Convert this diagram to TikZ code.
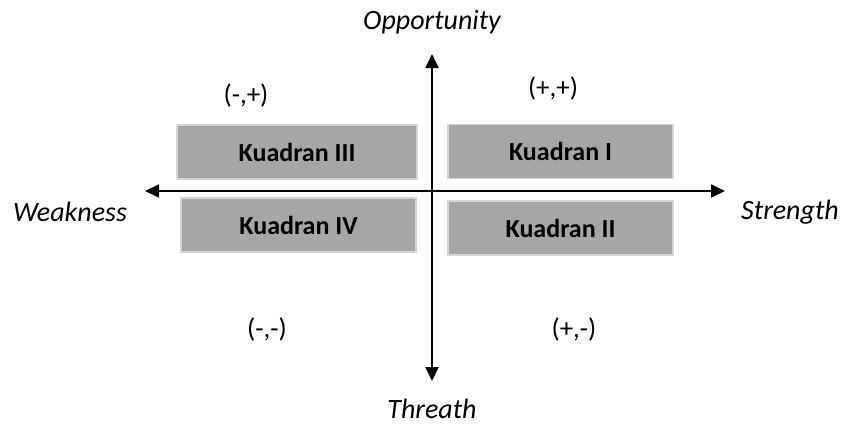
\documentclass[tikz,border=0pt]{standalone}
\usepackage{fontspec}
\setmainfont{Carlito}
\usetikzlibrary{arrows.meta}
\definecolor{boxgray}{HTML}{A6A6A6}
\definecolor{boxedge}{HTML}{D4D4D4}
\tikzset{
  quad/.style={draw=boxedge, line width=1.5pt, fill=boxgray, minimum width=#1, minimum height=54pt,
    font=\fontsize{26}{30}\selectfont\bfseries, inner sep=0pt},
  axis/.style={line width=1.8pt, -{Triangle[width=13pt,length=14pt]}},
  axlabel/.style={font=\fontsize{28}{32}\selectfont\itshape},
  sign/.style={font=\fontsize{27}{31}\selectfont}
}
\begin{document}
\begin{tikzpicture}[x=1pt,y=-1pt]
\useasboundingbox (0,0) rectangle (846,429);
% axes
\coordinate (o) at (432,191);
\coordinate (left) at (145,191);
\coordinate (right) at (725,191);
\coordinate (top) at (432,54);
\coordinate (bottom) at (432,381);
\draw[axis] (o) -- (right);
\draw[axis] (o) -- (left);
\draw[axis] (o) -- (top);
\draw[axis] (o) -- (bottom);
% quadrant boxes
\node[quad=240pt] (k3) at (297,152) {Kuadran III};
\node[quad=235pt] (k4) at (298.5,225) {Kuadran IV};
\node[quad=225pt] (k1) at (560.5,151.5) {Kuadran I};
\node[quad=225pt] (k2) at (560.5,228) {Kuadran II};
% axis labels
\node[axlabel] (opp) at (432,22) {Opportunity};
\node[axlabel] (thr) at (432,409) {Threath};
\node[axlabel] (weak) at (70,212) {Weakness};
\node[axlabel] (str) at (790,212) {Strength};
% signs
\node[sign] (mp) at (246,95) {(-,+)};
\node[sign] (pp) at (553,88) {(+,+)};
\node[sign] (mm) at (267,329) {(-,-)};
\node[sign] (pm) at (574,329) {(+,-)};
\end{tikzpicture}
\end{document}
